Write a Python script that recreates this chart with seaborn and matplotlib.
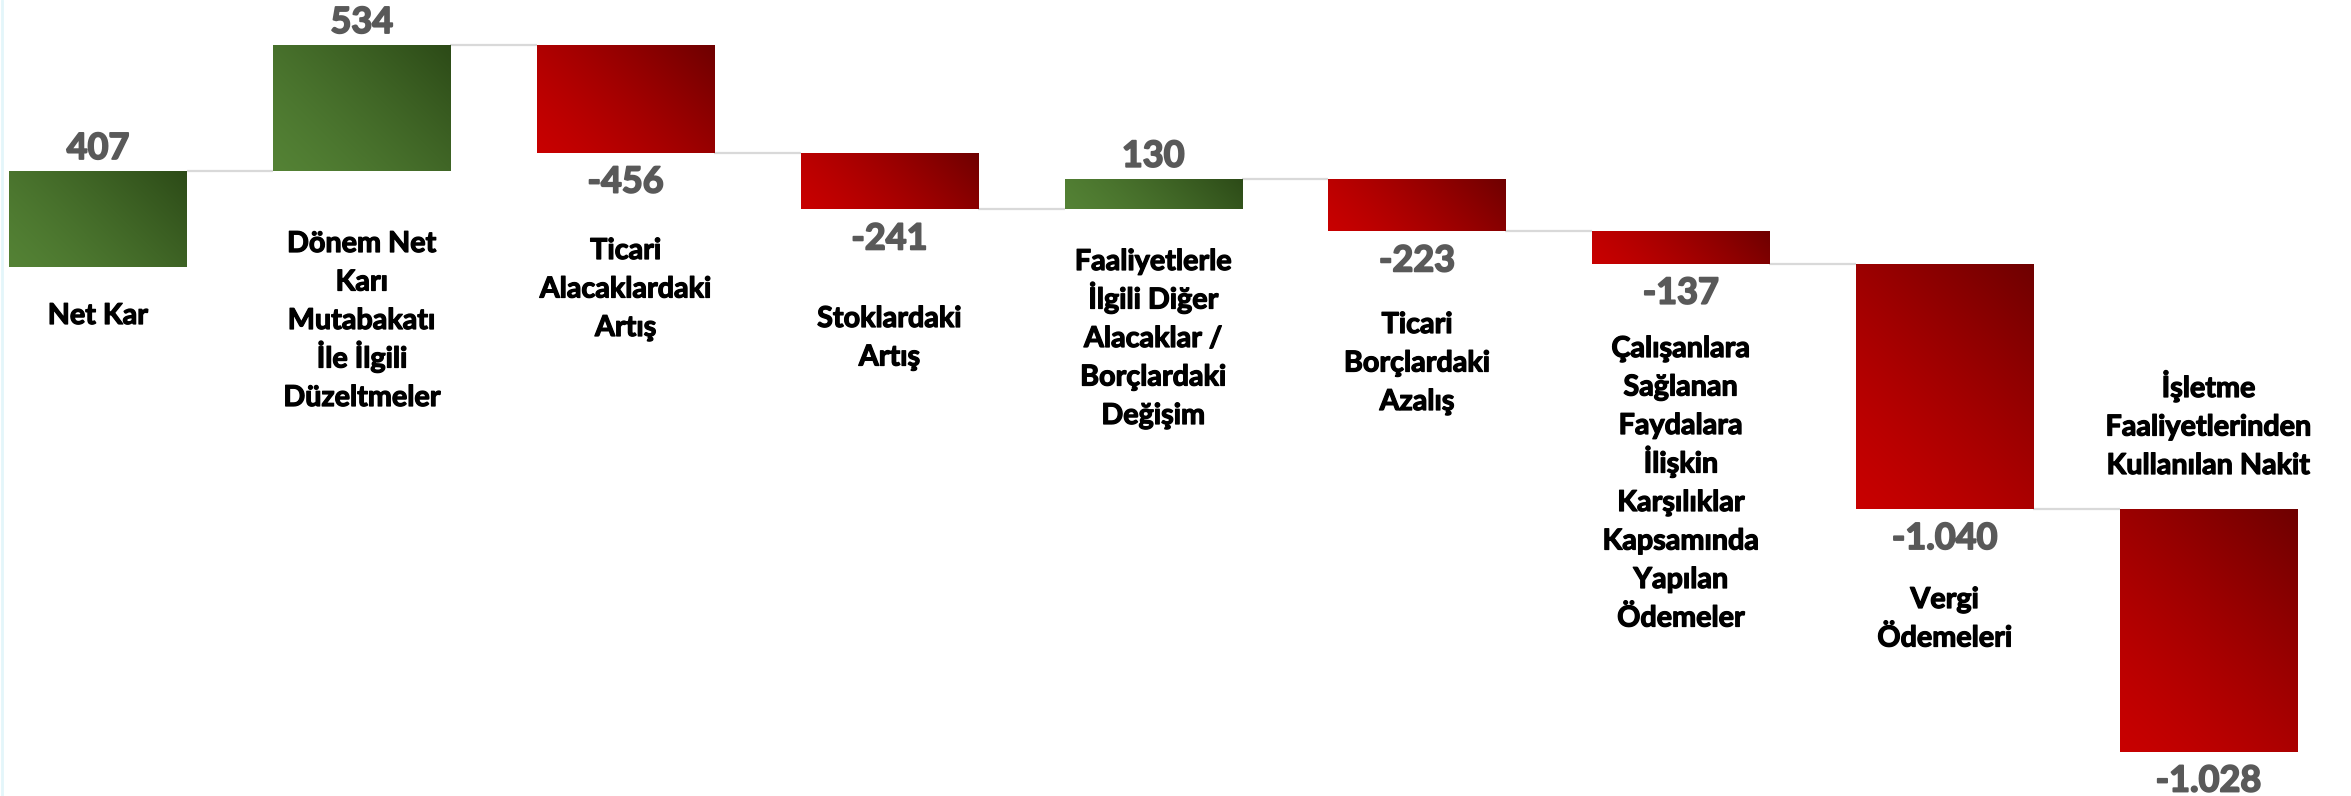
import numpy as np
import pandas as pd
import matplotlib
matplotlib.use("Agg")
import matplotlib.pyplot as plt
import matplotlib.transforms as mtransforms
import matplotlib.patheffects as pe
from matplotlib.colors import to_rgb
from matplotlib.lines import Line2D
import seaborn as sns

# ---------------- data ----------------
categories = [
    "Net Kar",
    "Dönem Net\nKarı\nMutabakatı\nİle İlgili\nDüzeltmeler",
    "Ticari\nAlacaklardaki\nArtış",
    "Stoklardaki\nArtış",
    "Faaliyetlerle\nİlgili Diğer\nAlacaklar /\nBorçlardaki\nDeğişim",
    "Ticari\nBorçlardaki\nAzalış",
    "Çalışanlara\nSağlanan\nFaydalara\nİlişkin\nKarşılıklar\nKapsamında\nYapılan\nÖdemeler",
    "Vergi\nÖdemeleri",
    "İşletme\nFaaliyetlerinden\nKullanılan Nakit",
]
values = [407, 534, -456, -241, 130, -223, -137, -1040, -1028]
value_labels = ["407", "534", "-456", "-241", "130", "-223", "-137", "-1.040", "-1.028"]

# ---------------- layout / style ----------------
W, H = 2351, 796
FONT = ["Lato", "DejaVu Sans"]
BAR_W = 0.671
X_LIM = (-0.3715, 8.5406)
Y_LIM = (-2242.5, 1131.8)
# first-line baseline of each category label, in pixels from the top
label_baseline_px = [324, 252, 259, 327, 270, 333, 357, 608, 397]
LINE_PITCH_PX = 38.5
GREEN = ("#548235", "#2c4a17")
RED = ("#c80000", "#6e0000")

sns.set_theme(style="white")
plt.rcParams["font.family"] = FONT

values_arr = np.array(values, dtype=float)
ends = np.cumsum(values_arr)
bottoms = np.concatenate([[0.0], ends[:-1]])
ends = bottoms + values_arr

df = pd.DataFrame({"cat": categories, "value": values_arr})

fig = plt.figure(figsize=(W / 100, H / 100), dpi=100)
ax = fig.add_axes([0, 0, 1, 1])
sns.barplot(data=df, x="cat", y="value", order=categories, width=BAR_W,
            bottom=bottoms, color="#c00000", errorbar=None, ax=ax,
            linewidth=0, zorder=2)

ax.set_xlim(*X_LIM)
ax.set_ylim(*Y_LIM)
ax.axis("off")

px_per_x = W / (X_LIM[1] - X_LIM[0])
px_per_y = H / (Y_LIM[1] - Y_LIM[0])


def gradient(c0, c1, wpx, hpx, n=256):
    u = np.linspace(0, 1, n)[None, :]
    v = np.linspace(0, 1, n)[:, None]
    t = (u * wpx + v * hpx) / (wpx + hpx)
    t = t ** 1.3
    a = np.array(to_rgb(c0))
    b = np.array(to_rgb(c1))
    return a[None, None, :] * (1 - t[..., None]) + b[None, None, :] * t[..., None]


patches = list(ax.patches)
for patch, val in zip(patches, values_arr):
    x0 = patch.get_x()
    w = patch.get_width()
    y = patch.get_y()
    h = patch.get_height()
    y0, y1 = min(y, y + h), max(y, y + h)
    c0, c1 = GREEN if val >= 0 else RED
    patch.set_facecolor(c0)
    img = gradient(c0, c1, w * px_per_x, (y1 - y0) * px_per_y)
    im = ax.imshow(img, extent=(x0, x0 + w, y0, y1), origin="lower",
                   aspect="auto", interpolation="bilinear", zorder=3)
    im.set_clip_path(patch)

ax.set_xlim(*X_LIM)
ax.set_ylim(*Y_LIM)

# connectors
for i in range(len(values) - 1):
    ax.plot([i + BAR_W / 2, i + 1 - BAR_W / 2], [ends[i], ends[i]],
            color="#d9d9d9", lw=1.6, solid_capstyle="butt", zorder=1)

renderer = fig.canvas.get_renderer()


def fit_size(text, target_px):
    t = fig.text(0, 0, text, fontsize=20, fontweight="bold", family=FONT)
    wpx = t.get_window_extent(renderer).width
    t.remove()
    return 20 * target_px / wpx


val_fs = fit_size("-1.028", 106)
cat_fs = fit_size("Kullanılan Nakit", 203)

val_fx = [pe.withStroke(linewidth=1.3, foreground="#595959")]
cat_fx = [pe.withStroke(linewidth=0.9, foreground="black")]

# value labels
for i, (val, lab) in enumerate(zip(values_arr, value_labels)):
    top = max(bottoms[i], ends[i])
    low = min(bottoms[i], ends[i])
    if val >= 0:
        ax.annotate(lab, xy=(i, top), xytext=(0, 12), textcoords="offset pixels",
                    ha="center", va="baseline", fontsize=val_fs,
                    fontweight="bold", color="#595959", zorder=5,
                    path_effects=val_fx)
    else:
        ax.annotate(lab, xy=(i, low), xytext=(0, -40), textcoords="offset pixels",
                    ha="center", va="baseline", fontsize=val_fs,
                    fontweight="bold", color="#595959", zorder=5,
                    path_effects=val_fx)

# category labels
blend = mtransforms.blended_transform_factory(ax.transData, ax.transAxes)
for i, cat in enumerate(categories):
    for j, line in enumerate(cat.split("\n")):
        ypx = label_baseline_px[i] + j * LINE_PITCH_PX
        ax.text(i, 1 - ypx / H, line, transform=blend, ha="center",
                va="baseline", fontsize=cat_fs, fontweight="bold",
                color="black", zorder=5, path_effects=cat_fx)

fig.add_artist(Line2D([0.0008, 0.0008], [0, 1], transform=fig.transFigure,
                      color="#e3f6fa", lw=2))

fig.savefig("out.png", dpi=100)
